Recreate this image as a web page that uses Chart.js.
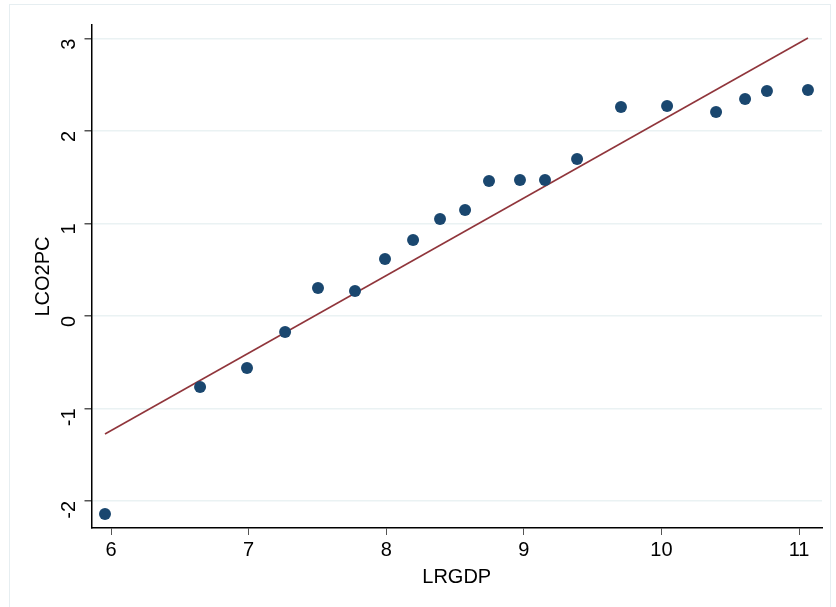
<!DOCTYPE html>
<html>
<head>
<meta charset="utf-8">
<script src="https://cdn.jsdelivr.net/npm/chart.js@4.4.1/dist/chart.umd.min.js"></script>
<style>
  html, body { margin: 0; padding: 0; background: #fff; }
  #wrap { position: relative; width: 836px; height: 607px; }
  #frame { position: absolute; left: 9px; top: 4px; width: 822px; height: 610px; border: 1px solid #e6eef1; box-sizing: border-box; }
  canvas { position: absolute; left: 0; top: 0; }
</style>
</head>
<body>
<div id="wrap">
  <div id="frame"></div>
  <canvas id="scatterChart" width="836" height="607"></canvas>
</div>
<script>
// observed points
const lrgdp = [5.956, 6.647, 6.988, 7.265, 7.504, 7.773, 7.991, 8.195, 8.391, 8.573,
               8.747, 8.972, 9.154, 9.387, 9.706, 10.041, 10.397, 10.608, 10.767, 11.065];
const lco2pc = [-2.14, -0.768, -0.562, -0.173, 0.303, 0.270, 0.616, 0.822, 1.049, 1.146,
                1.459, 1.470, 1.470, 1.697, 2.259, 2.270, 2.205, 2.346, 2.432, 2.443];

// fitted line end points
const fitX = [5.956, 11.065];
const fitY = [-1.276, 3.005];

const xTicks = [6, 7, 8, 9, 10, 11];
const yTicks = [-2, -1, 0, 1, 2, 3];

const colors = {
    dots: '#1a476f',
    fit: '#90353b',
    grid: '#eaf2f3'
};

const fontFamily = '"Liberation Sans", Arial, Helvetica, sans-serif';

function initializeScatterChart() {
    const ctx = document.getElementById('scatterChart');
    if (!ctx) return;

    new Chart(ctx.getContext('2d'), {
        type: 'scatter',
        data: {
            datasets: [
                {
                    label: 'Fitted values',
                    type: 'line',
                    data: fitX.map((x, i) => ({ x: x, y: fitY[i] })),
                    borderColor: colors.fit,
                    borderWidth: 1.6,
                    pointRadius: 0,
                    fill: false,
                    order: 2
                },
                {
                    label: 'LCO2PC',
                    data: lrgdp.map((x, i) => ({ x: x, y: lco2pc[i] })),
                    backgroundColor: colors.dots,
                    borderColor: colors.dots,
                    pointRadius: 6,
                    pointBorderWidth: 0,
                    order: 1
                }
            ]
        },
        options: {
            responsive: false,
            animation: false,
            layout: { padding: { left: 0, top: 25, right: 14, bottom: 0 } },
            plugins: {
                legend: { display: false },
                tooltip: { enabled: false }
            },
            scales: {
                x: {
                    type: 'linear',
                    min: 5.858,
                    max: 11.167,
                    afterBuildTicks: (scale) => { scale.ticks = xTicks.map(v => ({ value: v })); },
                    afterFit: (scale) => { scale.height = 79; scale.paddingLeft = 0; scale.paddingRight = 0; },
                    grid: { display: true, drawOnChartArea: false, drawTicks: true, tickLength: 7, tickColor: '#555' },
                    border: { color: '#000', width: 1.5 },
                    ticks: { color: '#000', font: { family: fontFamily, size: 20 }, padding: 3, maxRotation: 0 },
                    title: { display: true, text: 'LRGDP', color: '#000', font: { family: fontFamily, size: 20 }, padding: { top: 2, bottom: 18 } }
                },
                y: {
                    type: 'linear',
                    min: -2.292,
                    max: 3.146,
                    afterBuildTicks: (scale) => { scale.ticks = yTicks.map(v => ({ value: v })); },
                    afterFit: (scale) => { scale.width = 91.5; scale.paddingTop = 0; scale.paddingBottom = 0; },
                    grid: { color: colors.grid, lineWidth: 1.5, drawTicks: true, tickLength: 7, tickColor: '#555' },
                    border: { color: '#000', width: 1.5 },
                    ticks: { color: '#000', font: { family: fontFamily, size: 20 }, padding: 15, minRotation: 90, maxRotation: 90 },
                    title: { display: true, text: 'LCO2PC', color: '#000', font: { family: fontFamily, size: 20 }, padding: { top: 31, bottom: 4 } }
                }
            }
        }
    });
}

document.addEventListener('DOMContentLoaded', initializeScatterChart);
</script>
</body>
</html>
